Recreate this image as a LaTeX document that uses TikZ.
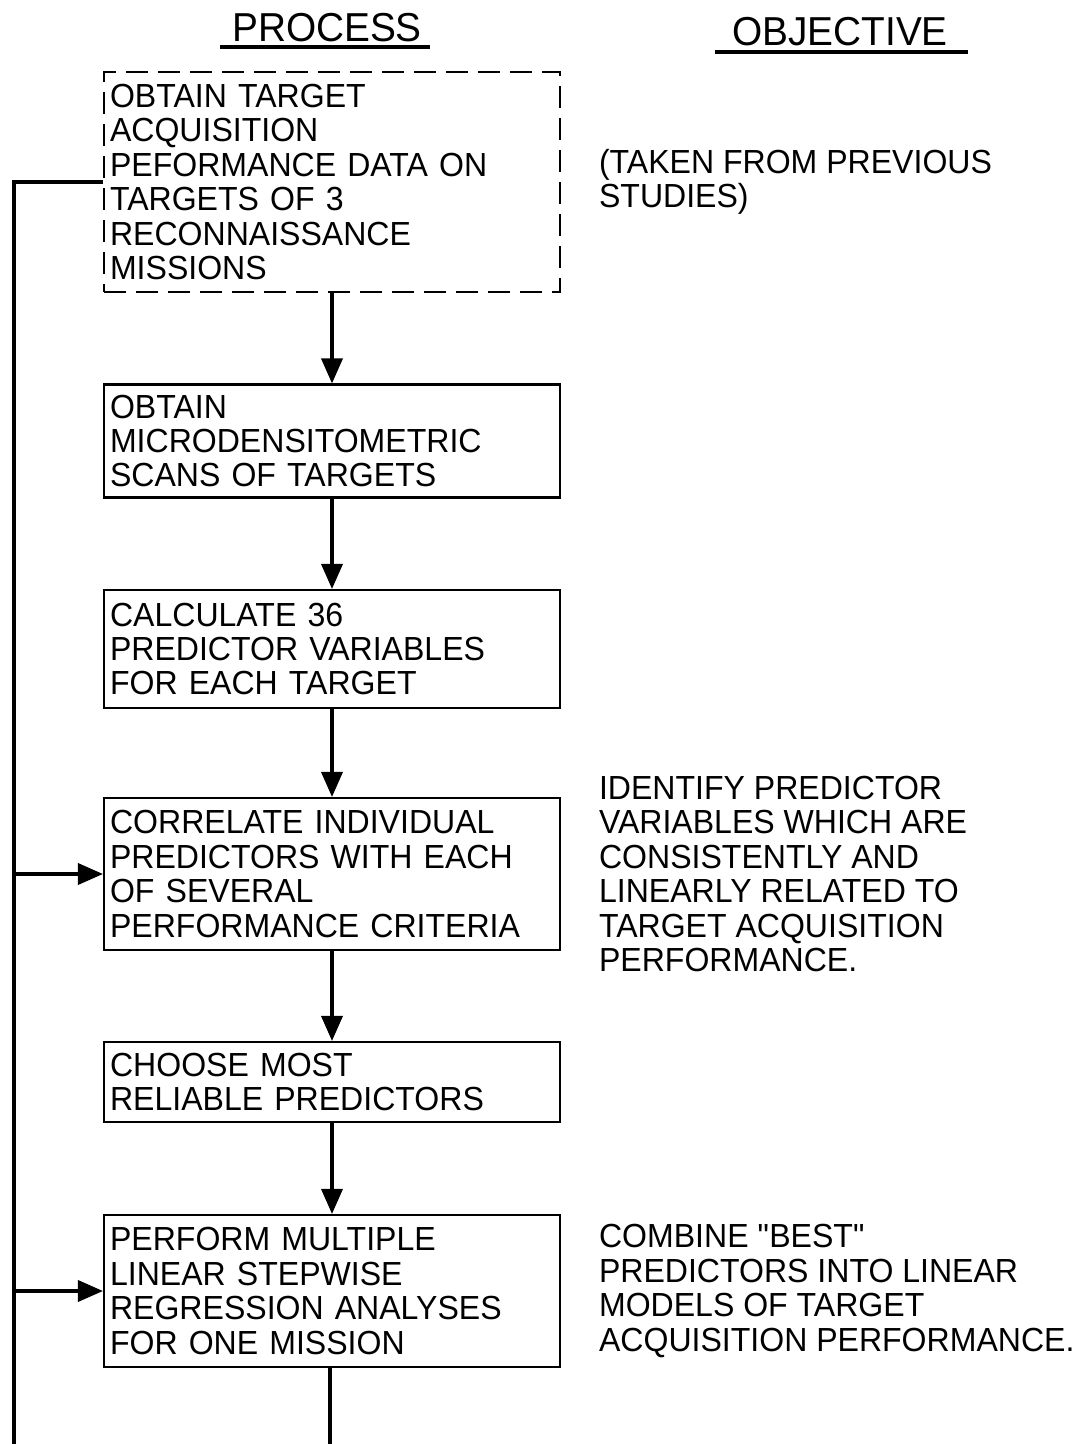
\documentclass[tikz,border=0pt]{standalone}
\usepackage{fontspec}
\setmainfont{Liberation Sans}[FakeStretch=0.96]
\usepackage{tikz}
\usetikzlibrary{arrows.meta,positioning}

\begin{document}
\begin{tikzpicture}[x=0.02cm,y=-0.02cm,>={Triangle[length=0.5cm,width=0.42cm]}, line width=1.2pt]
    \tikzstyle{stepbox} = [draw, rectangle, text width=8.88cm, inner xsep=0.12cm, inner ysep=0pt, align=left, font=\fontsize{19}{19.6}\selectfont]
    \tikzstyle{objtext} = [inner sep=0pt, align=left, font=\fontsize{19}{19.6}\selectfont]
    \tikzstyle{head} = [inner sep=0pt, font=\fontsize{23}{24}\selectfont]
    \tikzstyle{flow} = [->, line width=2pt]

    \useasboundingbox (0,0) rectangle (1085,1444);

    % Headings
    \node[head] (process) at (327,28) {PROCESS};
    \node[head] (objective) at (840,32) {OBJECTIVE};
    \coordinate (procL) at (220,47);
    \coordinate (procR) at (430,47);
    \coordinate (objL) at (715,52);
    \coordinate (objR) at (968,52);
    \draw[line width=2pt] (procL) -- (procR);
    \draw[line width=2pt] (objL) -- (objR);

    % Process boxes
    \node[stepbox, dash pattern=on 0.44cm off 0.2cm, minimum height=4.4cm] (obtain) at (332,182)
        {OBTAIN TARGET\\ACQUISITION\\PEFORMANCE DATA ON\\TARGETS OF 3\\RECONNAISSANCE\\MISSIONS};
    \node[stepbox, minimum height=2.26cm] (scans) at (332,441)
        {OBTAIN\\MICRODENSITOMETRIC\\SCANS OF TARGETS};
    \node[stepbox, minimum height=2.36cm] (calc) at (332,649)
        {CALCULATE 36\\PREDICTOR VARIABLES\\FOR EACH TARGET};
    \node[stepbox, minimum height=3.04cm] (correlate) at (332,874)
        {CORRELATE INDIVIDUAL\\PREDICTORS WITH EACH\\OF SEVERAL\\PERFORMANCE CRITERIA};
    \node[stepbox, minimum height=1.6cm] (choose) at (332,1082)
        {CHOOSE MOST\\RELIABLE PREDICTORS};
    \node[stepbox, minimum height=3.04cm] (regress) at (332,1291)
        {PERFORM MULTIPLE\\LINEAR STEPWISE\\REGRESSION ANALYSES\\FOR ONE MISSION};

    % Objectives
    \node[objtext, right=0.74cm of obtain] (prevstudies) {(TAKEN FROM PREVIOUS\\STUDIES)};
    \node[objtext, right=0.74cm of correlate] (identify)
        {IDENTIFY PREDICTOR\\VARIABLES WHICH ARE\\CONSISTENTLY AND\\LINEARLY RELATED TO\\TARGET ACQUISITION\\PERFORMANCE.};
    \node[objtext, right=0.74cm of regress] (combine)
        {COMBINE \textquotedbl BEST\textquotedbl\\PREDICTORS INTO LINEAR\\MODELS OF TARGET\\ACQUISITION PERFORMANCE.};

    % Main flow
    \draw[flow] (obtain) -- (scans);
    \draw[flow] (scans) -- (calc);
    \draw[flow] (calc) -- (correlate);
    \draw[flow] (correlate) -- (choose);
    \draw[flow] (choose) -- (regress);
    \coordinate (cont) at (330,1444);
    \draw[line width=2pt] (regress.south -| cont) -- (cont);

    % Feedback line
    \coordinate (fbend) at (14,1444);
    \draw[line width=2pt] (obtain.west) -| (fbend);
    \draw[flow] (fbend |- correlate.west) -- (correlate.west);
    \draw[flow] (fbend |- regress.west) -- (regress.west);
\end{tikzpicture}
\end{document}
